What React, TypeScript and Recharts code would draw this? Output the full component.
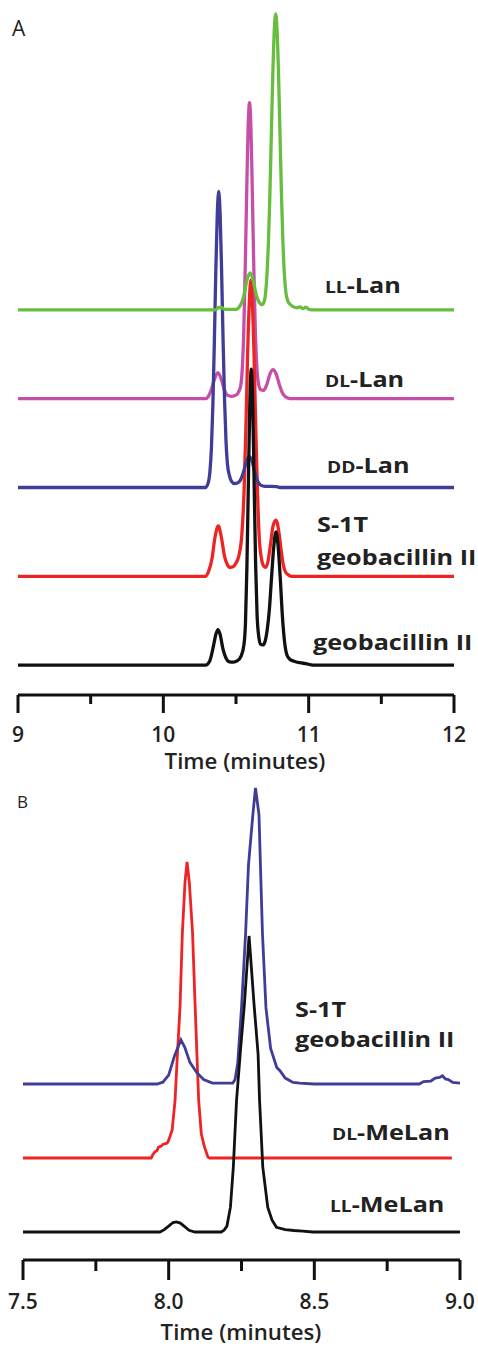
import React from "react";
import { LineChart, Line, XAxis, YAxis } from "recharts";

// ---- panel A : Lan standards (time in minutes, intensity 0-100) ----
const aTicks = [9, 9.5, 10, 10.5, 11, 11.5, 12];
const aMajor = [9, 10, 11, 12];
const aLabels = ["9", "10", "11", "12"];

const geobacillinA: [number, number][] = [
  [9, 0], [10.29, 0], [10.32, 1.5], [10.345, 6.5], [10.362, 10.5], [10.376, 12], [10.39, 10.5],
  [10.41, 5.5], [10.43, 2.5], [10.45, 1.2], [10.48, 1], [10.51, 1.5], [10.535, 3], [10.555, 7],
  [10.565, 14], [10.575, 33], [10.585, 61], [10.595, 88], [10.605, 100], [10.615, 88], [10.625, 61],
  [10.635, 34], [10.645, 17], [10.657, 9.5], [10.67, 7], [10.685, 6.8], [10.70, 8], [10.715, 12],
  [10.73, 19], [10.745, 30], [10.76, 40], [10.775, 45], [10.79, 40], [10.805, 29], [10.82, 16],
  [10.835, 7.5], [10.85, 3.5], [10.87, 2], [10.9, 1.3], [10.94, 0.8], [10.98, 0.5], [11.03, 0], [12, 0],
];

const s1tA: [number, number][] = [
  [9, 0], [10.29, 0], [10.31, 1.5], [10.335, 6], [10.355, 13], [10.378, 17], [10.40, 13], [10.42, 7],
  [10.44, 4], [10.46, 3], [10.48, 3.2], [10.50, 4.5], [10.52, 7], [10.54, 14], [10.555, 28],
  [10.568, 50], [10.58, 75], [10.592, 93], [10.602, 100], [10.612, 93], [10.624, 75], [10.636, 50],
  [10.648, 28], [10.66, 13], [10.675, 6], [10.69, 3.5], [10.705, 3], [10.72, 5], [10.738, 11],
  [10.755, 17], [10.775, 19], [10.795, 15], [10.81, 9], [10.825, 4], [10.84, 1.5], [10.86, 0.5],
  [10.88, 0], [12, 0],
];

const ddLan: [number, number][] = [
  [9, 0], [10.29, 0], [10.311, 2], [10.321, 5.6], [10.331, 13.5], [10.341, 28], [10.351, 49],
  [10.361, 73], [10.371, 92], [10.381, 100], [10.391, 92], [10.401, 73], [10.411, 50], [10.421, 30],
  [10.431, 16], [10.441, 8], [10.455, 4], [10.47, 2], [10.49, 1.3], [10.51, 1.5], [10.53, 2.5],
  [10.55, 5], [10.57, 8.5], [10.59, 10.5], [10.61, 9], [10.63, 5], [10.65, 2], [10.67, 0.8],
  [10.70, 0.4], [10.78, 0.3], [10.80, 0], [12, 0],
];

const dlLan: [number, number][] = [
  [9, 0], [10.29, 0], [10.31, 0.8], [10.33, 3], [10.35, 6.3], [10.376, 8.8], [10.40, 6.3], [10.42, 3],
  [10.44, 1.2], [10.47, 0.8], [10.50, 1.2], [10.52, 2.5], [10.533, 4.5], [10.543, 10], [10.553, 22],
  [10.563, 43], [10.573, 68], [10.583, 91], [10.593, 100], [10.603, 91], [10.613, 68], [10.623, 43],
  [10.633, 23], [10.643, 11], [10.655, 5], [10.67, 3], [10.69, 2.8], [10.71, 4.5], [10.735, 8.5],
  [10.755, 9.8], [10.775, 8.5], [10.80, 4.5], [10.82, 1.8], [10.845, 0.5], [10.87, 0], [12, 0],
];

const llLan: [number, number][] = [
  [9, 0], [10.36, 0], [10.38, 0.8], [10.40, 0.8], [10.42, 0.2], [10.50, 0.2], [10.53, 1.5],
  [10.555, 5], [10.575, 10], [10.598, 12.5], [10.62, 9.5], [10.64, 5], [10.66, 2.5], [10.68, 1.8],
  [10.693, 2.6], [10.703, 5.4], [10.713, 11.8], [10.723, 22.6], [10.733, 38.6], [10.743, 59],
  [10.753, 79], [10.763, 94], [10.773, 100], [10.783, 94], [10.793, 79], [10.803, 59], [10.813, 38.6],
  [10.823, 22.6], [10.833, 12], [10.843, 6], [10.855, 3.2], [10.87, 2], [10.89, 1.2], [10.92, 0.7],
  [10.94, 1], [10.96, 0.4], [10.98, 0.9], [11.0, 0.2], [11.02, 0], [12, 0],
];

// ---- panel B : MeLan standards ----
const bTicks = [7.5, 7.75, 8, 8.25, 8.5, 8.75, 9];
const bMajor = [7.5, 8, 8.5, 9];
const bLabels = ["7.5", "8.0", "8.5", "9.0"];

const s1tB: [number, number][] = [
  [7.5, 0], [7.96, 0], [7.98, 0.6], [8.0, 3], [8.02, 9.5], [8.042, 14.9], [8.055, 12.5], [8.073, 7.3],
  [8.096, 3.9], [8.12, 1.5], [8.15, 0.3], [8.22, 0.3], [8.228, 1.5], [8.237, 7], [8.25, 25.7],
  [8.264, 50.7], [8.274, 74], [8.289, 91], [8.298, 100], [8.31, 91], [8.315, 74], [8.322, 50.7],
  [8.334, 25.7], [8.35, 12], [8.371, 5.6], [8.382, 4.5], [8.40, 2], [8.427, 0.5], [8.45, 0.3],
  [8.50, 0], [8.86, 0], [8.875, 0.8], [8.90, 1], [8.915, 2], [8.93, 2.2], [8.94, 2.8], [8.95, 1.7],
  [8.96, 1.5], [8.975, 0.5], [9.0, 0.3],
];

const dlMeLan: [number, number][] = [
  [7.5, 0], [7.94, 0], [7.945, 1], [7.952, 2], [7.96, 2.5], [7.965, 3.7], [7.975, 4], [7.98, 4.6],
  [7.995, 5], [8.0, 6], [8.007, 8], [8.012, 9.5], [8.022, 19.5], [8.03, 35], [8.039, 51], [8.047, 76],
  [8.056, 93], [8.063, 100], [8.071, 93], [8.082, 76], [8.091, 51], [8.097, 35], [8.103, 19.5],
  [8.112, 8.2], [8.123, 3.7], [8.135, 0.3], [8.14, 0], [8.972, 0],
];

const llMeLan: [number, number][] = [
  [7.5, 0], [7.97, 0], [7.985, 0.8], [8.0, 2], [8.015, 3.2], [8.027, 3.4], [8.04, 3], [8.055, 1.8],
  [8.07, 0.6], [8.09, 0], [8.18, 0], [8.19, 0.6], [8.2, 2], [8.212, 8.4], [8.222, 22], [8.233, 44.5],
  [8.247, 62], [8.26, 77], [8.276, 100], [8.293, 77], [8.307, 60], [8.312, 44.5], [8.323, 22],
  [8.34, 8.4], [8.355, 4], [8.37, 1.6], [8.40, 0.8], [8.43, 0.5], [8.46, 0.3], [8.495, 0], [9.0, 0],
];

const FONT = "'Open Sans', 'Liberation Sans', sans-serif";

const toPoints = (pts: [number, number][], offset: number) =>
  pts.map(([t, v]) => ({ t, y: v + offset }));

function makeTick(major: number[], labels: string[], majorLen: number, minorLen: number, labelDy: number) {
  return (props: any) => {
    const { x, y, payload } = props;
    const idx = major.indexOf(payload.value);
    const isMajor = idx >= 0;
    return (
      <g>
        <line x1={x} x2={x} y1={y} y2={y + (isMajor ? majorLen : minorLen)} stroke="#111" strokeWidth={3} />
        {isMajor && (
          <text x={x} y={y + labelDy} textAnchor="middle" fontFamily={FONT} fontSize={21} fontWeight={600} fill="#222">
            {labels[idx]}
          </text>
        )}
      </g>
    );
  };
}

// trace labels: the original lettering is wide, so stretch it a little
function Label({ x, y, pre, main }: { x: number; y: number; pre?: string; main: string }) {
  return (
    <text transform={`translate(${x},${y}) scale(1.2,1)`} fontFamily={FONT} fontWeight={700} fontSize={21} fill="#222">
      {pre && <tspan fontSize={16}>{pre}</tspan>}
      <tspan>{main}</tspan>
    </text>
  );
}

function AxisTitle({ x, y }: { x: number; y: number }) {
  return (
    <text transform={`translate(${x},${y}) scale(1.06,1)`} textAnchor="middle" fontFamily={FONT} fontSize={21} fontWeight={600} fill="#222">
      Time (minutes)
    </text>
  );
}

export default function App() {
  return (
    <div style={{ position: "absolute", left: 0, top: 0, width: 478, height: 1347, background: "#fff" }}>
      <div style={{ position: "absolute", left: 0, top: 0 }}>
        <LineChart width={478} height={790} margin={{ top: 10, right: 24, left: 18, bottom: 35 }}>
          <XAxis
            type="number"
            dataKey="t"
            domain={[9, 12]}
            ticks={aTicks}
            interval={0}
            height={60}
            tickSize={0}
            tickMargin={0}
            tickLine={false}
            axisLine={{ stroke: "#111", strokeWidth: 3 }}
            tick={makeTick(aMajor, aLabels, 18, 9, 47)}
            allowDataOverflow
          />
          <YAxis hide type="number" domain={[-10.1, 221.3]} allowDataOverflow />
          <Line data={toPoints(dlLan, 90)} dataKey="y" stroke="#c54fa8" strokeWidth={3.3} dot={false} type="monotone" isAnimationActive={false} />
          <Line data={toPoints(s1tA, 30)} dataKey="y" stroke="#ee2424" strokeWidth={3.3} dot={false} type="monotone" isAnimationActive={false} />
          <Line data={toPoints(ddLan, 60)} dataKey="y" stroke="#3f3d98" strokeWidth={3.3} dot={false} type="monotone" isAnimationActive={false} />
          <Line data={toPoints(geobacillinA, 0)} dataKey="y" stroke="#111" strokeWidth={3.3} dot={false} type="monotone" isAnimationActive={false} />
          <Line data={toPoints(llLan, 120)} dataKey="y" stroke="#66bd3e" strokeWidth={3.3} dot={false} type="monotone" isAnimationActive={false} />
        </LineChart>
      </div>
      <div style={{ position: "absolute", left: 0, top: 775 }}>
        <LineChart width={478} height={572} margin={{ top: 10, right: 18, left: 23, bottom: 27 }}>
          <XAxis
            type="number"
            dataKey="t"
            domain={[7.5, 9]}
            ticks={bTicks}
            interval={0}
            height={60}
            tickSize={0}
            tickMargin={0}
            tickLine={false}
            axisLine={{ stroke: "#111", strokeWidth: 3 }}
            tick={makeTick(bMajor, bLabels, 20, 11, 49)}
            allowDataOverflow
          />
          <YAxis hide type="number" domain={[-9.46, 151]} allowDataOverflow />
          <Line data={toPoints(dlMeLan, 25)} dataKey="y" stroke="#ee2424" strokeWidth={2.8} dot={false} type="linear" isAnimationActive={false} />
          <Line data={toPoints(s1tB, 50)} dataKey="y" stroke="#3f3d98" strokeWidth={2.8} dot={false} type="linear" isAnimationActive={false} />
          <Line data={toPoints(llMeLan, 0)} dataKey="y" stroke="#111" strokeWidth={2.8} dot={false} type="linear" isAnimationActive={false} />
        </LineChart>
      </div>
      <svg width={478} height={1347} style={{ position: "absolute", left: 0, top: 0, pointerEvents: "none" }}>
        <text x={12} y={36} fontFamily={FONT} fontSize={21} fill="#222">A</text>
        <text x={17} y={808} fontFamily={FONT} fontSize={17} fill="#222">B</text>
        <Label x={325} y={293} pre="LL" main="-Lan" />
        <Label x={325} y={387} pre="DL" main="-Lan" />
        <Label x={327} y={473} pre="DD" main="-Lan" />
        <Label x={317} y={532} main="S-1T" />
        <Label x={317} y={565} main="geobacillin II" />
        <Label x={313} y={650} main="geobacillin II" />
        <Label x={295} y={1017} main="S-1T" />
        <Label x={295} y={1047} main="geobacillin II" />
        <Label x={332} y={1140} pre="DL" main="-MeLan" />
        <Label x={330} y={1212} pre="LL" main="-MeLan" />
        <AxisTitle x={245} y={769} />
        <AxisTitle x={241} y={1340} />
      </svg>
    </div>
  );
}
